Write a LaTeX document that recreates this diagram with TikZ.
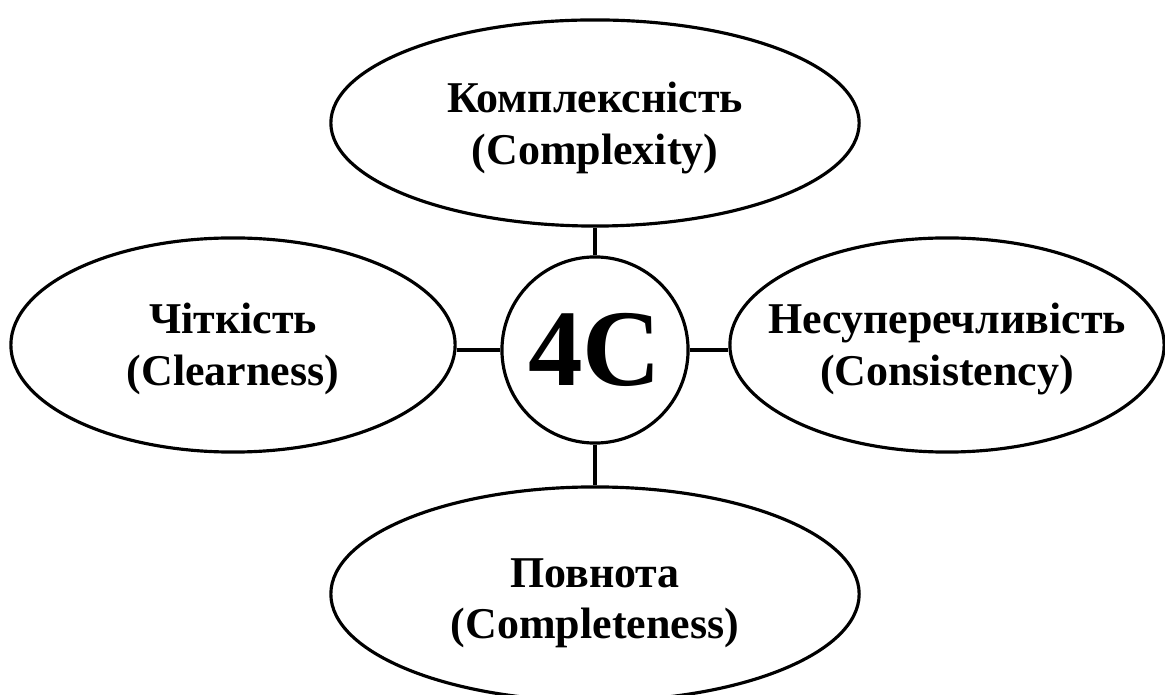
\documentclass[tikz,border=0pt]{standalone}
\usepackage{fontspec}
\setmainfont{Liberation Serif}
\usetikzlibrary{shapes.geometric}
\tikzset{
  bubble/.style={draw=black, line width=0.9pt, ellipse, inner sep=0pt},
  hub/.style={draw=black, line width=0.9pt, circle, inner sep=0pt, minimum size=1.86cm,
    font=\fontsize{31}{33}\selectfont\bfseries},
  lbl/.style={align=center, inner sep=0pt, font=\fontsize{12.5}{14.6}\selectfont\bfseries},
  link/.style={draw=black, line width=0.9pt}
}
\begin{document}
\begin{tikzpicture}[x=0.01cm, y=-0.01cm]
\useasboundingbox (0,0) rectangle (1165,695);
\node[bubble, minimum width=5.28cm, minimum height=2.06cm] (top) at (595,123) {};
\node[lbl] (toptext) at (595,128) {Комплексність\\(Complexity)};
\node[bubble, minimum width=4.44cm, minimum height=2.14cm] (left) at (233,345) {};
\node[lbl] (lefttext) at (233,349) {Чіткість\\(Clearness)};
\node[bubble, minimum width=4.34cm, minimum height=2.14cm] (right) at (947,345) {};
\node[lbl] (righttext) at (947,349) {Несуперечливість\\(Consistency)};
\node[bubble, minimum width=5.28cm, minimum height=2.14cm] (bottom) at (595,594) {};
\node[lbl] (bottomtext) at (595,603) {Повнота\\(Completeness)};
\node[hub] (c) at (595,350) {4C};
\draw[link] (c.north) -- (top.south);
\draw[link] (c.south) -- (bottom.north);
\draw[link] (c.west) -- (c.west -| left.east);
\draw[link] (c.east) -- (c.east -| right.west);
\end{tikzpicture}
\end{document}
